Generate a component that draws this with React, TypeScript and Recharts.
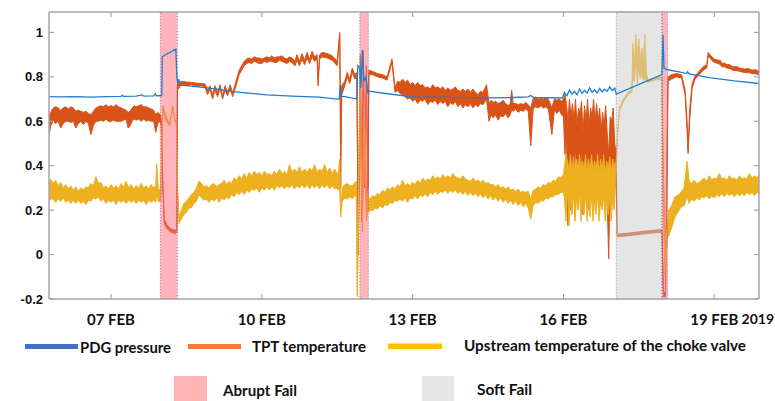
import React from 'react';
import { ComposedChart, Line, Area, XAxis, YAxis, ReferenceArea } from 'recharts';

// x = day of February 2019
const xDomain: [number, number] = [5.767, 19.89];
const yDomain: [number, number] = [-0.2, 1.092];
const tickDays = [7, 10, 13, 16, 19, 19.89];
const tickLabels = ['07 FEB', '10 FEB', '13 FEB', '16 FEB', '19 FEB', '2019'];
const yTicks = [-0.2, 0, 0.2, 0.4, 0.6, 0.8, 1];

const abruptFails: [number, number][] = [[7.98, 8.32], [11.95, 12.12], [17.96, 18.07]];
const softFails: [number, number][] = [[17.05, 17.96]];

// PDG pressure [day, value]
const pdgPoints: [number, number][] = [
  [5.77,0.711],[6.0,0.71],[6.3,0.711],[6.6,0.709],[6.9,0.711],[7.2,0.712],[7.22,0.718],[7.25,0.712],[7.5,0.713],
  [7.62,0.719],[7.65,0.713],[7.85,0.714],[7.88,0.725],[7.9,0.715],[8.01,0.716],[8.02,0.89],[8.05,0.895],[8.29,0.925],
  [8.31,0.8],[8.33,0.77],[8.35,0.79],[8.37,0.763],[8.6,0.758],[9.0,0.748],[9.43,0.734],[10.1,0.719],[10.6,0.713],
  [11.15,0.709],[11.5,0.7],[11.54,0.7],[11.56,0.76],[11.59,0.712],[11.65,0.711],[11.89,0.7],[11.91,0.85],[11.95,0.84],
  [11.97,0.75],[12.0,0.92],[12.03,0.78],[12.07,0.8],[12.11,0.73],[12.13,0.736],[12.5,0.724],[13.0,0.71],[13.7,0.708],
  [14.5,0.705],[15.0,0.707],[15.3,0.71],[15.35,0.716],[15.4,0.708],[15.98,0.705],
  [16.02,0.73],[16.07,0.715],[16.12,0.74],[16.17,0.722],[16.22,0.735],[16.27,0.72],[16.32,0.745],[16.37,0.725],
  [16.42,0.74],[16.47,0.728],[16.52,0.75],[16.57,0.73],[16.62,0.742],[16.67,0.727],[16.72,0.748],[16.77,0.732],
  [16.82,0.745],[16.87,0.735],[16.92,0.755],[16.97,0.738],[17.02,0.75],[17.05,0.722],
  [17.96,0.81],[17.98,0.99],[18.0,0.84],[18.07,0.832],[18.3,0.822],[18.45,0.815],[18.47,0.823],[18.5,0.813],
  [18.9,0.797],[19.4,0.782],[19.89,0.77],
];

// TPT temperature [day, low, high]
const tptBand: [number, number, number][] = [
  [5.77,0.54,0.62],[5.8,0.58,0.64],[5.85,0.6,0.66],[5.9,0.59,0.665],[5.95,0.6,0.66],[6.0,0.57,0.65],[6.05,0.59,0.66],
  [6.1,0.6,0.665],[6.15,0.6,0.655],[6.2,0.595,0.665],[6.25,0.6,0.66],[6.3,0.57,0.645],[6.35,0.59,0.65],[6.4,0.6,0.645],
  [6.45,0.585,0.64],[6.5,0.6,0.645],[6.55,0.59,0.635],[6.6,0.54,0.63],[6.65,0.58,0.645],[6.7,0.6,0.66],[6.75,0.6,0.665],
  [6.8,0.605,0.67],[6.85,0.6,0.665],[6.9,0.61,0.675],[6.95,0.6,0.665],[7.0,0.6,0.67],[7.05,0.605,0.665],[7.1,0.6,0.675],
  [7.15,0.6,0.665],[7.2,0.6,0.66],[7.25,0.605,0.655],[7.3,0.61,0.65],[7.34,0.57,0.64],[7.38,0.58,0.645],[7.42,0.6,0.66],
  [7.46,0.61,0.67],[7.5,0.605,0.665],[7.55,0.61,0.67],[7.6,0.6,0.675],[7.65,0.61,0.665],[7.7,0.6,0.665],[7.75,0.605,0.66],
  [7.8,0.6,0.655],[7.85,0.6,0.65],[7.89,0.55,0.63],[7.93,0.59,0.64],[7.98,0.6,0.63],
  [8.0,0.58,0.61],[8.03,0.3,0.34],[8.06,0.14,0.16],[8.12,0.115,0.13],[8.2,0.1,0.115],[8.28,0.095,0.108],[8.31,0.1,0.12],
  [8.32,0.74,0.77],[8.4,0.765,0.78],[8.5,0.762,0.777],[8.6,0.765,0.775],[8.7,0.758,0.772],[8.8,0.76,0.77],[8.87,0.755,0.768],
  [8.92,0.72,0.74],[8.97,0.745,0.76],[9.02,0.7,0.72],[9.07,0.74,0.76],[9.12,0.71,0.73],[9.17,0.75,0.765],[9.22,0.7,0.715],
  [9.27,0.74,0.76],[9.32,0.715,0.73],[9.37,0.75,0.765],[9.42,0.71,0.725],[9.46,0.74,0.76],[9.55,0.81,0.83],[9.65,0.85,0.87],
  [9.7,0.86,0.88],[9.75,0.865,0.885],[9.8,0.86,0.88],[9.85,0.87,0.89],[9.9,0.865,0.885],[9.95,0.86,0.885],[10.0,0.86,0.88],
  [10.05,0.87,0.885],[10.1,0.865,0.89],[10.15,0.87,0.885],[10.2,0.87,0.895],[10.25,0.865,0.885],[10.3,0.865,0.89],
  [10.35,0.875,0.89],[10.4,0.87,0.895],[10.45,0.865,0.885],[10.5,0.86,0.88],[10.55,0.87,0.89],[10.6,0.865,0.885],
  [10.66,0.85,0.87],[10.7,0.875,0.9],[10.75,0.85,0.87],[10.8,0.88,0.905],
  [10.85,0.855,0.875],[10.9,0.885,0.91],[10.95,0.86,0.88],[11.0,0.89,0.915],[11.05,0.87,0.89],[11.1,0.88,0.9],[11.12,0.76,0.79],
  [11.15,0.88,0.9],[11.2,0.89,0.91],[11.3,0.885,0.905],[11.4,0.875,0.895],[11.5,0.85,0.87],[11.55,0.99,1.0],[11.57,0.3,0.5],
  [11.59,0.72,0.76],[11.65,0.76,0.78],[11.7,0.8,0.82],[11.75,0.77,0.79],[11.8,0.82,0.84],[11.85,0.79,0.81],[11.89,0.8,0.82],
  [11.92,0.0,0.02],[11.96,0.85,0.9],[11.99,0.15,0.25],[12.02,0.88,0.92],[12.05,0.3,0.4],[12.08,0.8,0.85],[12.11,0.2,0.3],
  [12.13,0.81,0.83],[12.2,0.81,0.825],[12.3,0.8,0.815],[12.4,0.795,0.81],[12.49,0.785,0.8],[12.59,0.865,0.88],
  [12.65,0.73,0.75],[12.7,0.74,0.78],[12.75,0.725,0.775],[12.8,0.72,0.79],[12.85,0.71,0.775],[12.9,0.7,0.785],
  [12.95,0.705,0.765],[13.0,0.69,0.775],[13.05,0.7,0.76],[13.1,0.68,0.775],[13.15,0.695,0.76],[13.2,0.69,0.765],
  [13.25,0.7,0.75],[13.3,0.675,0.755],[13.35,0.69,0.745],[13.4,0.685,0.765],[13.45,0.695,0.75],[13.5,0.675,0.755],
  [13.55,0.69,0.745],[13.6,0.68,0.755],[13.65,0.69,0.74],[13.7,0.665,0.75],[13.75,0.685,0.74],[13.8,0.675,0.745],
  [13.85,0.69,0.755],[13.9,0.665,0.74],[13.95,0.68,0.735],[14.0,0.66,0.745],[14.05,0.675,0.735],[14.1,0.665,0.745],
  [14.15,0.68,0.73],[14.2,0.66,0.745],[14.25,0.675,0.73],[14.3,0.665,0.72],[14.35,0.68,0.735],[14.4,0.675,0.73],
  [14.47,0.7,0.765],[14.52,0.6,0.68],[14.56,0.63,0.695],[14.6,0.615,0.685],[14.65,0.63,0.69],[14.7,0.605,0.68],
  [14.75,0.625,0.685],[14.8,0.62,0.695],[14.85,0.635,0.68],[14.9,0.615,0.67],[14.94,0.63,0.68],[14.97,0.65,0.74],
  [15.0,0.645,0.68],[15.05,0.655,0.68],[15.1,0.64,0.675],[15.15,0.65,0.68],[15.2,0.645,0.675],[15.25,0.655,0.685],
  [15.3,0.645,0.675],[15.35,0.49,0.66],[15.4,0.66,0.705],[15.45,0.665,0.71],[15.5,0.66,0.7],[15.55,0.67,0.705],
  [15.6,0.66,0.7],[15.65,0.665,0.705],[15.7,0.655,0.7],[15.77,0.54,0.66],[15.82,0.65,0.7],[15.87,0.635,0.695],
  [15.92,0.65,0.7],[15.96,0.63,0.69],
  [16.0,0.62,0.7],[16.03,0.45,0.72],[16.06,0.55,0.68],[16.09,0.13,0.6],[16.12,0.5,0.7],[16.15,0.2,0.62],[16.18,0.45,0.68],
  [16.21,0.35,0.6],[16.24,0.5,0.7],[16.27,0.25,0.58],[16.3,0.45,0.66],[16.33,0.3,0.63],[16.36,0.5,0.69],[16.39,0.18,0.55],
  [16.42,0.4,0.67],[16.45,0.3,0.6],[16.48,0.48,0.7],[16.51,0.2,0.58],[16.54,0.42,0.66],[16.57,0.35,0.62],[16.6,0.45,0.7],
  [16.63,0.25,0.6],[16.66,0.4,0.68],[16.69,0.32,0.6],[16.72,0.45,0.66],[16.75,0.22,0.56],[16.78,0.38,0.64],[16.81,0.3,0.58],
  [16.84,0.42,0.67],[16.87,0.25,0.55],[16.9,-0.02,0.45],[16.93,0.35,0.62],[16.96,0.3,0.6],[16.99,0.4,0.66],[17.02,0.3,0.5],
  [17.05,0.35,0.45],[17.07,0.08,0.092],[17.3,0.085,0.097],[17.6,0.093,0.105],[17.9,0.1,0.112],[17.96,0.1,0.112],
  [17.99,-0.19,-0.17],[18.03,-0.19,-0.17],[18.06,0.3,0.5],[18.08,0.78,0.8],[18.15,0.79,0.81],[18.25,0.8,0.815],
  [18.35,0.795,0.81],[18.42,0.72,0.74],[18.46,0.55,0.6],[18.48,0.455,0.47],[18.51,0.6,0.65],[18.56,0.75,0.77],
  [18.62,0.79,0.805],[18.7,0.81,0.825],[18.78,0.83,0.845],[18.85,0.84,0.855],[18.88,0.895,0.91],[18.95,0.875,0.89],
  [19.0,0.865,0.88],[19.08,0.86,0.875],[19.12,0.855,0.875],[19.15,0.845,0.86],[19.2,0.845,0.862],[19.25,0.84,0.855],
  [19.3,0.838,0.856],[19.37,0.83,0.845],[19.45,0.828,0.846],[19.5,0.825,0.84],[19.6,0.82,0.835],[19.68,0.82,0.838],
  [19.75,0.815,0.83],[19.82,0.814,0.832],[19.89,0.81,0.825],
];

// Upstream temperature of the choke valve [day, low, high]
const upstreamBand: [number, number, number][] = [
  [5.77,0.24,0.31],[5.8,0.25,0.34],[5.85,0.25,0.32],[5.9,0.235,0.335],[5.95,0.25,0.31],[6.0,0.24,0.325],[6.05,0.255,0.3],
  [6.1,0.235,0.315],[6.15,0.245,0.295],[6.2,0.23,0.31],[6.25,0.245,0.29],[6.3,0.23,0.305],[6.35,0.245,0.285],[6.4,0.23,0.3],
  [6.45,0.24,0.29],[6.5,0.225,0.305],[6.55,0.245,0.3],[6.6,0.24,0.32],[6.65,0.255,0.31],[6.7,0.25,0.35],[6.75,0.26,0.32],
  [6.8,0.24,0.325],[6.85,0.25,0.3],[6.9,0.23,0.31],[6.95,0.245,0.295],[7.0,0.235,0.315],[7.05,0.245,0.3],[7.1,0.225,0.31],
  [7.15,0.245,0.295],[7.2,0.235,0.32],[7.25,0.245,0.305],[7.3,0.23,0.33],[7.35,0.245,0.3],[7.4,0.235,0.315],[7.45,0.245,0.295],
  [7.5,0.23,0.31],[7.55,0.245,0.3],[7.6,0.235,0.32],[7.65,0.245,0.3],[7.7,0.225,0.31],[7.75,0.245,0.295],[7.8,0.235,0.315],
  [7.85,0.245,0.3],[7.89,0.235,0.31],[7.91,0.28,0.41],[7.94,0.24,0.3],[7.99,0.24,0.28],
  [8.03,0.64,0.67],[8.1,0.6,0.62],[8.17,0.58,0.59],[8.23,0.66,0.67],[8.27,0.6,0.61],[8.3,0.59,0.6],[8.32,0.3,0.34],
  [8.35,0.14,0.17],[8.4,0.16,0.2],[8.45,0.18,0.23],[8.5,0.19,0.24],[8.55,0.21,0.255],[8.6,0.21,0.27],[8.65,0.23,0.28],
  [8.7,0.24,0.3],[8.75,0.27,0.33],[8.8,0.255,0.32],[8.85,0.245,0.305],[8.9,0.25,0.31],[8.95,0.235,0.3],[9.0,0.25,0.315],
  [9.05,0.24,0.32],[9.1,0.255,0.305],[9.15,0.235,0.315],[9.2,0.255,0.32],[9.25,0.245,0.335],[9.3,0.26,0.315],[9.35,0.25,0.33],
  [9.4,0.27,0.32],[9.45,0.26,0.345],[9.5,0.28,0.335],[9.55,0.27,0.355],[9.6,0.285,0.34],[9.65,0.27,0.365],[9.7,0.29,0.345],
  [9.75,0.28,0.37],[9.8,0.295,0.355],[9.85,0.29,0.375],[9.9,0.3,0.36],[9.95,0.28,0.37],[10.0,0.3,0.355],[10.05,0.29,0.375],
  [10.1,0.305,0.36],[10.15,0.29,0.365],[10.2,0.305,0.355],[10.25,0.29,0.375],[10.3,0.31,0.36],[10.35,0.3,0.385],
  [10.4,0.31,0.365],[10.45,0.295,0.375],[10.5,0.31,0.36],[10.55,0.3,0.405],[10.6,0.315,0.37],[10.65,0.295,0.385],
  [10.7,0.31,0.37],[10.75,0.3,0.395],[10.8,0.315,0.37],[10.85,0.3,0.385],[10.9,0.315,0.37],[10.95,0.295,0.39],
  [11.0,0.315,0.375],[11.05,0.3,0.405],[11.1,0.315,0.37],[11.15,0.295,0.385],[11.2,0.315,0.375],[11.25,0.3,0.405],
  [11.3,0.315,0.37],[11.35,0.295,0.39],[11.4,0.31,0.365],[11.45,0.295,0.385],[11.5,0.3,0.36],[11.52,0.29,0.37],
  [11.55,0.3,0.43],[11.57,0.17,0.2],[11.6,0.24,0.3],[11.65,0.255,0.315],[11.7,0.25,0.32],[11.75,0.26,0.31],[11.8,0.25,0.31],
  [11.85,0.265,0.325],[11.88,0.26,0.33],[11.9,-0.19,-0.17],[11.93,0.3,0.5],
  [11.96,0.6,0.8],[12.0,0.1,0.2],[12.04,0.5,0.7],[12.08,0.15,0.3],[12.12,0.22,0.25],
  [12.13,0.19,0.25],[12.17,0.205,0.255],[12.2,0.195,0.265],[12.25,0.21,0.26],[12.3,0.205,0.275],[12.35,0.22,0.27],
  [12.4,0.21,0.29],[12.45,0.225,0.28],[12.5,0.22,0.3],[12.55,0.235,0.29],[12.6,0.23,0.305],[12.65,0.245,0.295],
  [12.7,0.24,0.315],[12.75,0.25,0.305],[12.8,0.24,0.335],[12.85,0.255,0.31],[12.9,0.235,0.32],[12.95,0.255,0.31],
  [13.0,0.25,0.325],[13.05,0.265,0.315],[13.1,0.25,0.335],[13.15,0.27,0.32],[13.2,0.26,0.345],[13.25,0.275,0.33],
  [13.3,0.26,0.34],[13.35,0.28,0.335],[13.4,0.27,0.355],[13.45,0.285,0.34],[13.5,0.27,0.35],[13.55,0.285,0.34],
  [13.6,0.28,0.36],[13.65,0.29,0.345],[13.7,0.275,0.355],[13.75,0.29,0.345],[13.8,0.28,0.365],[13.85,0.29,0.35],
  [13.9,0.275,0.345],[13.95,0.285,0.34],[14.0,0.27,0.355],[14.05,0.285,0.34],[14.1,0.265,0.335],[14.15,0.28,0.33],
  [14.2,0.265,0.345],[14.25,0.275,0.33],[14.3,0.26,0.335],[14.35,0.275,0.325],[14.4,0.255,0.335],[14.45,0.27,0.32],
  [14.5,0.25,0.325],[14.55,0.265,0.315],[14.6,0.245,0.315],[14.65,0.26,0.305],[14.7,0.24,0.315],[14.75,0.255,0.3],
  [14.8,0.235,0.305],[14.85,0.25,0.295],[14.9,0.23,0.305],[14.95,0.245,0.29],[15.0,0.225,0.295],[15.05,0.24,0.285],
  [15.1,0.22,0.295],[15.15,0.235,0.28],[15.2,0.215,0.285],[15.25,0.23,0.28],[15.3,0.21,0.285],[15.35,0.16,0.25],
  [15.4,0.22,0.29],[15.45,0.235,0.295],[15.5,0.23,0.305],[15.55,0.245,0.3],[15.6,0.24,0.315],[15.65,0.255,0.31],
  [15.7,0.25,0.325],[15.75,0.26,0.32],[15.8,0.26,0.335],[15.85,0.27,0.33],[15.9,0.27,0.35],[15.95,0.28,0.345],[16.0,0.28,0.36],
  [16.02,0.25,0.4],[16.05,0.15,0.45],[16.08,0.3,0.42],[16.11,0.13,0.38],[16.14,0.25,0.45],[16.17,0.18,0.36],[16.2,0.28,0.44],
  [16.23,0.15,0.35],[16.26,0.25,0.43],[16.29,0.2,0.38],[16.32,0.28,0.45],[16.35,0.15,0.36],[16.38,0.26,0.42],[16.41,0.18,0.38],
  [16.44,0.28,0.45],[16.47,0.15,0.34],[16.5,0.25,0.43],[16.53,0.17,0.37],[16.56,0.27,0.45],[16.59,0.15,0.36],[16.62,0.25,0.42],
  [16.65,0.18,0.38],[16.68,0.28,0.45],[16.71,0.15,0.35],[16.74,0.25,0.43],[16.77,0.2,0.38],[16.8,0.27,0.45],[16.83,0.15,0.36],
  [16.86,0.25,0.42],[16.89,0.18,0.38],[16.92,0.27,0.44],[16.95,0.15,0.36],[16.98,0.25,0.43],[17.01,0.2,0.4],[17.05,0.38,0.42],
  [17.08,0.55,0.565],[17.12,0.65,0.665],[17.2,0.69,0.702],[17.3,0.725,0.735],[17.36,0.73,0.74],[17.38,0.8,0.95],
  [17.41,0.78,0.85],[17.44,0.88,0.99],[17.47,0.77,0.9],[17.5,0.85,0.97],[17.53,0.79,0.88],[17.56,0.82,0.93],[17.59,0.78,0.86],
  [17.62,0.8,0.99],[17.65,0.78,0.82],[17.68,0.775,0.785],[17.8,0.785,0.795],[17.96,0.79,0.8],[17.98,0.3,0.5],[18.02,-0.1,0.1],
  [18.07,0.09,0.12],[18.09,0.08,0.2],[18.15,0.12,0.22],[18.22,0.17,0.26],[18.3,0.2,0.27],[18.35,0.215,0.285],[18.4,0.22,0.3],
  [18.46,0.26,0.42],[18.5,0.23,0.33],[18.55,0.25,0.32],[18.6,0.24,0.335],[18.65,0.255,0.32],[18.7,0.245,0.325],
  [18.75,0.26,0.335],[18.8,0.255,0.345],[18.85,0.265,0.33],[18.9,0.25,0.355],[18.95,0.265,0.335],[19.0,0.255,0.345],
  [19.05,0.27,0.34],[19.1,0.26,0.365],[19.15,0.275,0.34],[19.2,0.26,0.345],[19.25,0.275,0.335],[19.3,0.265,0.355],
  [19.35,0.275,0.34],[19.4,0.26,0.345],[19.45,0.275,0.335],[19.5,0.265,0.355],[19.55,0.275,0.34],[19.6,0.265,0.345],
  [19.65,0.28,0.34],[19.7,0.27,0.365],[19.75,0.28,0.345],[19.8,0.265,0.355],[19.85,0.28,0.345],[19.89,0.28,0.36],
];

const legendItems = ['PDG pressure', 'TPT temperature', 'Upstream temperature of the choke valve'];
const failLegend = ['Abrupt Fail', 'Soft Fail'];

const pdgData = pdgPoints.map(([d, v]) => ({ d, v }));
const tptData = tptBand.map(([d, lo, hi]) => ({ d, r: [lo, hi] }));
const upData = upstreamBand.map(([d, lo, hi]) => ({ d, r: [lo, hi] }));

const FRAME = '#a6a6a6';
const labelFont = 'Lato, "Noto Sans", sans-serif';

const BottomTick = (props: any) => {
  const { x, y, payload } = props;
  const idx = tickDays.indexOf(payload.value);
  const isYear = idx === tickDays.length - 1;
  return (
    <g>
      {!isYear && <line x1={x} y1={y} x2={x} y2={y - 5} stroke={FRAME} strokeWidth={1.2} />}
      <text x={isYear ? x + 15 : x} y={isYear ? y + 25 : y + 26} textAnchor={isYear ? 'end' : 'middle'}
        fontFamily={labelFont} fontWeight={700} fontSize={isYear ? 14 : 15} fill="#111">
        {tickLabels[idx]}
      </text>
    </g>
  );
};

const TopTick = (props: any) => {
  const { x, y } = props;
  return <line x1={x} y1={y} x2={x} y2={y + 5} stroke={FRAME} strokeWidth={1.2} />;
};

const LeftTick = (props: any) => {
  const { x, y, payload } = props;
  const v = payload.value;
  const label = v === 0 ? '0' : v === 1 ? '1' : v.toFixed(1);
  return (
    <g>
      <line x1={x} y1={y} x2={x + 5} y2={y} stroke={FRAME} strokeWidth={1.2} />
      <text x={x - 6} y={y + 4.5} textAnchor="end" fontFamily='"Liberation Sans", Arial, sans-serif' fontWeight={700} fontSize={13} fill="#111">
        {label}
      </text>
    </g>
  );
};

const RightTick = (props: any) => {
  const { x, y } = props;
  return <line x1={x} y1={y} x2={x - 5} y2={y} stroke={FRAME} strokeWidth={1.2} />;
};

export default function App() {
  return (
    <div style={{ position: 'absolute', left: 0, top: 0, width: 775, height: 401, background: '#fff', overflow: 'hidden' }}>
      <ComposedChart width={775} height={401} margin={{ top: 0, right: 0, bottom: 0, left: 0 }}>
        <XAxis xAxisId="b" dataKey="d" type="number" domain={xDomain} allowDataOverflow ticks={tickDays} interval={0}
          height={102} tickSize={0} tickMargin={0} tickLine={false} tick={<BottomTick />}
          axisLine={{ stroke: FRAME, strokeWidth: 1.5 }} />
        <XAxis xAxisId="t" orientation="top" dataKey="d" type="number" domain={xDomain} allowDataOverflow ticks={tickDays.slice(0, 5)}
          interval={0} height={12} tickSize={0} tickMargin={0} tickLine={false} tick={<TopTick />}
          axisLine={{ stroke: FRAME, strokeWidth: 1.5 }} />
        <YAxis yAxisId="l" type="number" domain={yDomain} allowDataOverflow ticks={yTicks} interval={0} width={49}
          tickSize={0} tickMargin={0} tickLine={false} tick={<LeftTick />} axisLine={{ stroke: FRAME, strokeWidth: 1.5 }} />
        <YAxis yAxisId="r" orientation="right" type="number" domain={yDomain} allowDataOverflow ticks={yTicks} interval={0}
          width={16} tickSize={0} tickMargin={0} tickLine={false} tick={<RightTick />} axisLine={{ stroke: FRAME, strokeWidth: 1.5 }} />

        <Area xAxisId="b" yAxisId="l" data={tptData} dataKey="r" type="linear" stroke="#d95319" strokeWidth={1}
          fill="#d95319" fillOpacity={1} isAnimationActive={false} dot={false} activeDot={false} />
        <Area xAxisId="b" yAxisId="l" data={upData} dataKey="r" type="linear" stroke="#edb120" strokeWidth={1}
          fill="#edb120" fillOpacity={1} isAnimationActive={false} dot={false} activeDot={false} />
        <Line xAxisId="b" yAxisId="l" data={pdgData} dataKey="v" type="linear" stroke="#1f7fd0" strokeWidth={1.3}
          dot={false} activeDot={false} isAnimationActive={false} />

        {softFails.map(([a, b], i) => (
          <ReferenceArea key={'s' + i} xAxisId="b" yAxisId="l" x1={a} x2={b} y1={yDomain[0]} y2={yDomain[1]}
            fill="#cccccc" fillOpacity={0.5} stroke="#40509a" strokeOpacity={0.8} strokeWidth={0.8} strokeDasharray="1 2" />
        ))}
        {abruptFails.map(([a, b], i) => (
          <ReferenceArea key={'a' + i} xAxisId="b" yAxisId="l" x1={a} x2={b} y1={yDomain[0]} y2={yDomain[1]}
            fill="#ff6878" fillOpacity={0.5} stroke="#40509a" strokeOpacity={0.8} strokeWidth={0.8} strokeDasharray="1 2" />
        ))}
      </ComposedChart>
      <svg width={775} height={401} style={{ position: 'absolute', left: 0, top: 0, pointerEvents: 'none' }}>
        <rect x={25} y={344} width={53} height={5} fill="#4472c4" />
        <text x={80} y={353.3} fontFamily={labelFont} fontWeight={700} fontSize={14.5} fill="#111" textLength={91} lengthAdjust="spacingAndGlyphs">{legendItems[0]}</text>
        <rect x={188} y={344} width={53} height={5} fill="#ed7d31" />
        <text x={252} y={351.7} fontFamily={labelFont} fontWeight={700} fontSize={14.5} fill="#111" textLength={114} lengthAdjust="spacingAndGlyphs">{legendItems[1]}</text>
        <rect x={388} y={343.5} width={54} height={5.5} fill="#ffc000" />
        <text x={464} y={350.7} fontFamily={labelFont} fontWeight={700} fontSize={14.5} fill="#111" textLength={282} lengthAdjust="spacingAndGlyphs">{legendItems[2]}</text>
        <rect x={174} y={376} width={33} height={26} fill="#ffb4b4" />
        <text x={223} y={395.7} fontFamily={labelFont} fontWeight={700} fontSize={14.5} fill="#111" textLength={74} lengthAdjust="spacingAndGlyphs">{failLegend[0]}</text>
        <rect x={422} y={376} width={32} height={26} fill="#e6e6e6" />
        <text x={477} y={395} fontFamily={labelFont} fontWeight={700} fontSize={14.5} fill="#111" textLength={55} lengthAdjust="spacingAndGlyphs">{failLegend[1]}</text>
      </svg>
    </div>
  );
}
